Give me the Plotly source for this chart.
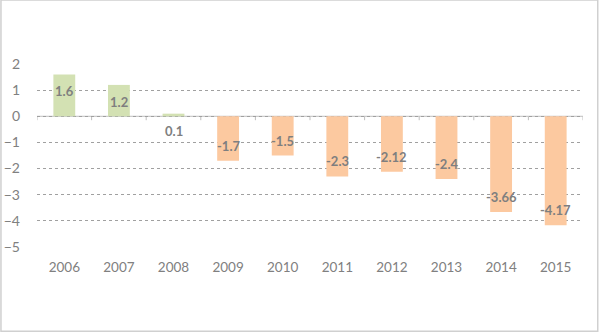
import plotly.graph_objects as go

years = ["2006", "2007", "2008", "2009", "2010", "2011", "2012", "2013", "2014", "2015"]
values = [1.6, 1.2, 0.1, -1.7, -1.5, -2.3, -2.12, -2.4, -3.66, -4.17]
labels = ["1.6", "1.2", "0.1", "-1.7", "-1.5", "-2.3", "-2.12", "-2.4", "-3.66", "-4.17"]
y_ticks = [2, 1, 0, -1, -2, -3, -4, -5]

GREEN = "#d3e1b3"
ORANGE = "#fcc9a0"
colors = [GREEN if v >= 0 else ORANGE for v in values]
FONT = "Lato, 'Open Sans', sans-serif"

fig = go.Figure()
fig.add_trace(go.Bar(x=list(range(len(years))), y=values, marker_color=colors,
                     marker_line_width=0, width=0.4, hoverinfo="skip"))

for i, (v, t) in enumerate(zip(values, labels)):
    fig.add_annotation(x=i, y=v, text="<b>%s</b>" % t, showarrow=False,
                       yshift=(-17 if v >= 0 else 15),
                       font=dict(family=FONT, size=13, color="#7f7f7f"))

# zero axis line with category tick marks
fig.add_shape(type="line", xref="x", yref="y", x0=-0.5, x1=len(years) - 0.5, y0=0, y1=0,
              line=dict(color="#bfbfbf", width=1), layer="below")
for i in range(len(years) + 1):
    fig.add_shape(type="line", xref="x", yref="y", x0=i - 0.5, x1=i - 0.5, y0=0, y1=-0.15,
                  line=dict(color="#bfbfbf", width=1), layer="below")

# chart border
fig.add_shape(type="rect", xref="paper", yref="paper", x0=-0.066, x1=1.027, y0=-0.46, y1=1.35,
              line=dict(color="#d0d0d0", width=1.5), layer="below")

fig.update_layout(
    width=600, height=334,
    margin=dict(l=37, r=17, t=64, b=87),
    paper_bgcolor="white", plot_bgcolor="white",
    showlegend=False,
    font=dict(family=FONT, size=13, color="#808080"),
    xaxis=dict(tickmode="array", tickvals=list(range(len(years))), ticktext=years,
               range=[-0.5, len(years) - 0.5], showgrid=False, zeroline=False,
               showline=False, ticks="", ticklabelstandoff=10, automargin=False,
               tickfont=dict(size=13.5, color="#808080")),
    yaxis=dict(range=[-5, 2], tickvals=y_ticks, showgrid=True, gridcolor="#a0a0a0",
               griddash="dot", gridwidth=1, zeroline=False, showline=False, ticks="",
               ticklabelstandoff=16, automargin=False,
               tickfont=dict(size=14, color="#808080")),
)
fig.write_html("out.html")
